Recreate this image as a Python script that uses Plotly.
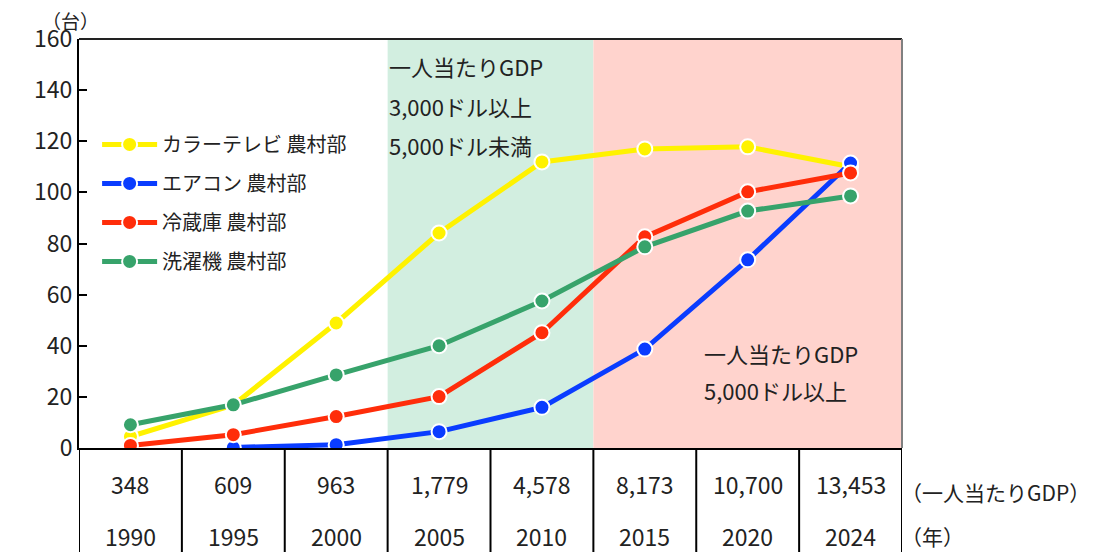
import plotly.graph_objects as go

years = ["1990", "1995", "2000", "2005", "2010", "2015", "2020", "2024"]
gdp = ["348", "609", "963", "1,779", "4,578", "8,173", "10,700", "13,453"]

tv = [4.5, 16.8, 48.9, 84.1, 111.9, 117.0, 117.8, 110.0]
ac = [None, 0.2, 1.3, 6.4, 15.9, 38.7, 73.6, 111.5]
fridge = [1.0, 5.2, 12.3, 20.1, 45.1, 82.6, 100.2, 107.6]
washer = [9.1, 16.9, 28.6, 40.0, 57.5, 78.7, 92.7, 98.6]

names = ["カラーテレビ 農村部", "エアコン 農村部", "冷蔵庫 農村部", "洗濯機 農村部"]
colors = ["#FFF200", "#0A3CFF", "#FF2D0A", "#37A36B"]
series = [tv, ac, fridge, washer]

FONT = "Noto Sans CJK JP"
TXT = "#222222"

fig = go.Figure()
xs = list(range(len(years)))
for i, (nm, col, vals) in enumerate(zip(names, colors, series)):
    fig.add_trace(go.Scatter(
        x=xs, y=vals, name=nm, mode="lines+markers",
        line=dict(color=col, width=5),
        marker=dict(color=col, size=15, line=dict(color="white", width=2)),
        legendgroup=f"g{i}", connectgaps=False,
    ))

shapes = []
# background zones
shapes.append(dict(type="rect", xref="x", yref="paper", x0=2.5, x1=4.5, y0=0, y1=1,
                   fillcolor="#D2EEE0", line=dict(width=0), layer="below"))
shapes.append(dict(type="rect", xref="x", yref="paper", x0=4.5, x1=7.5, y0=0, y1=1,
                   fillcolor="#FFD3CD", line=dict(width=0), layer="below"))
# top frame and right border
shapes.append(dict(type="line", xref="paper", yref="paper", x0=0, x1=1, y0=1, y1=1,
                   line=dict(color="#222222", width=2)))
shapes.append(dict(type="line", xref="paper", yref="paper", x0=1, x1=1, y0=0, y1=1,
                   line=dict(color="#808080", width=2)))
# table vertical lines
for k in range(len(years) + 1):
    shapes.append(dict(type="line", xref="x", yref="paper", x0=k - 0.5, x1=k - 0.5,
                       y0=0, y1=-0.3, line=dict(color="black", width=2)))

ann = []
for i in range(len(years)):
    ann.append(dict(x=i, y=-0.088, xref="x", yref="paper", text=gdp[i], showarrow=False,
                    font=dict(size=23, color=TXT, family=FONT), yanchor="middle"))
    ann.append(dict(x=i, y=-0.215, xref="x", yref="paper", text=years[i], showarrow=False,
                    font=dict(size=23, color=TXT, family=FONT), yanchor="middle"))

def pa(text, xpx, ypx, size=22, anchor="left"):
    ann.append(dict(x=(xpx - 79) / 823, y=(448 - ypx) / 409, xref="paper", yref="paper",
                    text=text, showarrow=False, xanchor=anchor, yanchor="middle",
                    font=dict(size=size, color=TXT, family=FONT)))

pa("（一人当たりGDP）", 899, 492, size=21)
pa("（年）", 899, 536, size=21)
pa("（台）", 40, 21, size=19)
pa("一人当たりGDP", 387, 66)
pa("3,000ドル以上", 387, 106)
pa("5,000ドル未満", 387, 145)
pa("一人当たりGDP", 702, 353)
pa("5,000ドル以上", 702, 390)

# page has an 8px body margin; figure is sized so the plot sits at page px 79..902, 39..448
fig.update_layout(
    width=1086, height=544,
    margin=dict(l=71, r=192, t=31, b=104),
    paper_bgcolor="white", plot_bgcolor="white",
    font=dict(family=FONT, size=20, color=TXT),
    showlegend=True,
    legend=dict(x=0.022, y=0.79, xanchor="left", yanchor="top",
                bgcolor="rgba(0,0,0,0)", tracegroupgap=10, itemwidth=55,
                font=dict(size=20, family=FONT, color=TXT)),
    xaxis=dict(range=[-0.5, 7.5], showticklabels=False, ticks="", showgrid=False,
               zeroline=False, showline=True, linecolor="black", linewidth=2),
    yaxis=dict(range=[0, 160], dtick=20, showgrid=False, zeroline=False,
               showline=True, linecolor="black", linewidth=2,
               ticks="inside", ticklen=8, tickwidth=1.5, tickcolor="black",
               tickfont=dict(size=23, family=FONT, color=TXT)),
    shapes=shapes, annotations=ann,
)
fig.write_html("out.html")
